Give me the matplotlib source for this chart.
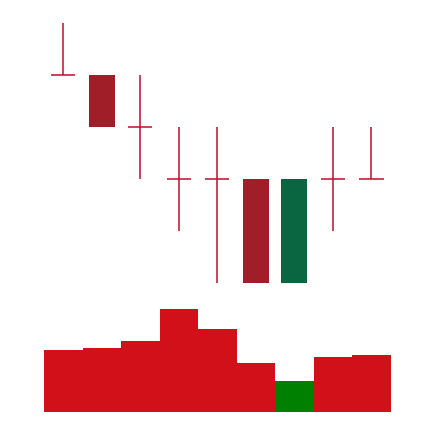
import matplotlib
matplotlib.use('Agg')
import matplotlib.pyplot as plt
from matplotlib.patches import Rectangle

# OHLC data for 9 periods
opens = [5, 5, 4, 3, 3, 3, 1, 3, 3]
highs = [6, 5, 5, 4, 4, 3, 3, 4, 4]
lows = [5, 4, 3, 2, 1, 1, 1, 2, 3]
closes = [5, 4, 4, 3, 3, 1, 3, 3, 3]
volumes = [62, 64, 71, 103, 83, 49, 31, 55, 57]
vol_up = [False, False, False, False, False, False, True, False, False]

up_body = '#0a6640'
down_body = '#a01e28'
wick_color = '#bf1028'
vol_red = '#d2101a'
vol_green = '#008000'

W, H = 434, 422
fig = plt.figure(figsize=(W / 100, H / 100), dpi=100)

left = 44 / W
width = 346.7 / W

ax = fig.add_axes([left, (H - 283) / H, width, 260 / H])
axv = fig.add_axes([left, (H - 411.7) / H, width, 110 / H])

body_w = 0.675
tick_w = 0.63
for i in range(len(opens)):
    o, h, l, c = opens[i], highs[i], lows[i], closes[i]
    if o == c:
        ax.plot([i, i], [l, h], color=wick_color, lw=1.1,
                solid_capstyle='butt', clip_on=False)
        ax.plot([i - tick_w / 2, i + tick_w / 2], [o, o], color=wick_color,
                lw=1.1, solid_capstyle='butt', clip_on=False)
    else:
        col = up_body if c > o else down_body
        top, bot = max(o, c), min(o, c)
        if h > top:
            ax.plot([i, i], [top, h], color=col, lw=1.1,
                    solid_capstyle='butt', clip_on=False)
        if l < bot:
            ax.plot([i, i], [l, bot], color=col, lw=1.1,
                    solid_capstyle='butt', clip_on=False)
        ax.add_patch(Rectangle((i - body_w / 2, bot), body_w, top - bot,
                               facecolor=col, edgecolor='none', clip_on=False))

ax.set_xlim(-0.5, 8.5)
ax.set_ylim(1, 6)
ax.axis('off')

vcolors = [vol_green if u else vol_red for u in vol_up]
axv.bar(range(len(volumes)), volumes, width=1.0, color=vcolors, linewidth=0)
axv.set_xlim(-0.5, 8.5)
axv.set_ylim(0, 110)
axv.axis('off')

fig.savefig('out.png', dpi=100)
